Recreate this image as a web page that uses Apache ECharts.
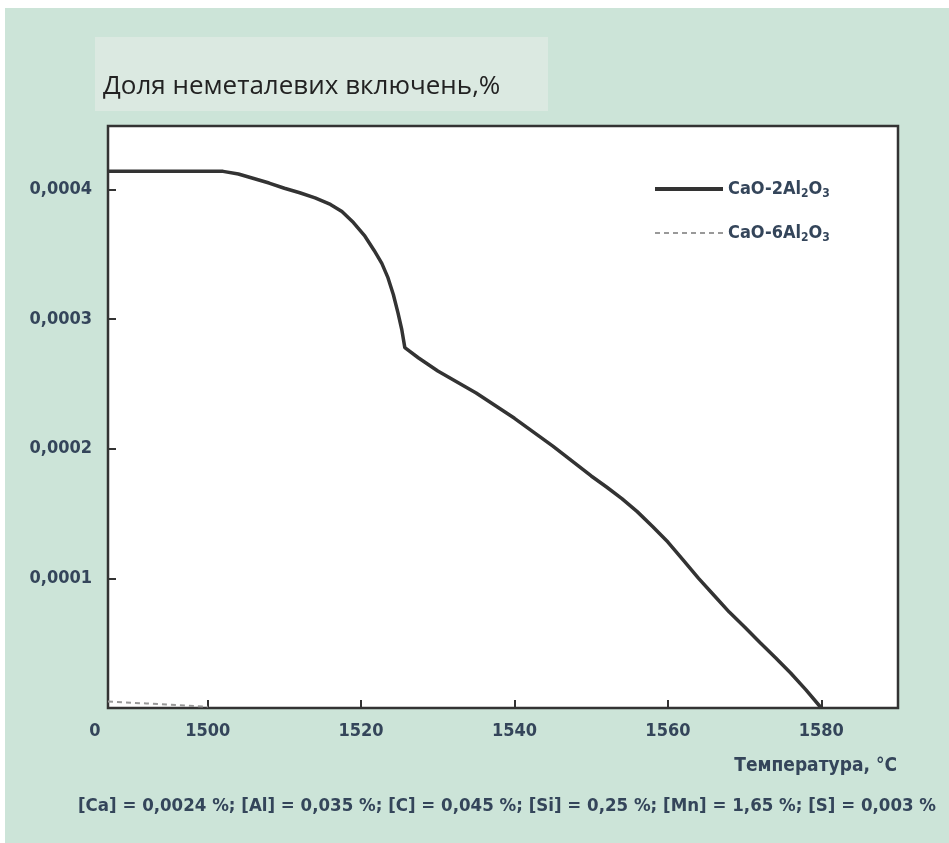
<!DOCTYPE html>
<html>
<head>
<meta charset="utf-8">
<script src="https://cdn.jsdelivr.net/npm/echarts@6/dist/echarts.min.js"></script>
<style>
html,body{margin:0;padding:0;background:#fff;}
#chart{width:949px;height:843px;}
</style>
</head>
<body>
<div id="chart"></div>
<script>
// ---- data ----
const tempCaO2 = [1487, 1490, 1495, 1500, 1502, 1504, 1506, 1508, 1510, 1512, 1514, 1516, 1517.5, 1519, 1520.5, 1521.7, 1522.7, 1523.5, 1524.2, 1524.8, 1525.3, 1525.7, 1527.5, 1530, 1535, 1540, 1545, 1550, 1552, 1554, 1556, 1558, 1560, 1562, 1564, 1566, 1568, 1570, 1572, 1574, 1576, 1578, 1580];
const valCaO2  = [0.000414, 0.000414, 0.000414, 0.000414, 0.000414, 0.000412, 0.0004085, 0.000405, 0.000401, 0.0003975, 0.0003935, 0.0003885, 0.000383, 0.0003745, 0.000364, 0.000353, 0.000343, 0.000332, 0.000319, 0.000305, 0.000292, 0.000278, 0.000270, 0.000260, 0.000243, 0.0002235, 0.000202, 0.000179, 0.0001705, 0.0001615, 0.0001515, 0.000140, 0.000128, 0.000114, 0.000100, 0.000087, 0.000074, 0.0000625, 0.0000505, 0.000039, 0.000027, 0.000014, 0.0000];
const tempCaO6 = [1487, 1492, 1497, 1500];
const valCaO6  = [0.000005, 0.0000035, 0.000002, 0.000001];
const seriesNames = ['CaO-2Al2O3', 'CaO-6Al2O3'];
const xTicks = [1500, 1520, 1540, 1560, 1580];
const yTicks = [0.0001, 0.0002, 0.0003, 0.0004];
const originLabel = '0';
const titleText = 'Доля неметалевих включень,%';
const xAxisName = 'Температура, °C';
const noteText = '[Ca] = 0,0024 %; [Al] = 0,035 %; [C] = 0,045 %; [Si] = 0,25 %; [Mn] = 1,65 %; [S] = 0,003 %';

const narrow = "'Liberation Sans Narrow', 'DejaVu Sans Condensed', sans-serif";
const txtColor = '#34455a';

const chart = echarts.init(document.getElementById('chart'));
chart.setOption({
  backgroundColor: '#cce4d8',
  animation: false,
  graphic: [
    { type: 'rect', shape: { x: 0, y: 0, width: 949, height: 8 }, style: { fill: '#fff' }, z: 0 },
    { type: 'rect', shape: { x: 0, y: 0, width: 5, height: 843 }, style: { fill: '#fff' }, z: 0 },
    { type: 'rect', shape: { x: 95, y: 37, width: 453, height: 74 }, style: { fill: '#dbe9e1' }, z: 0 },
    { type: 'text', x: 103, y: 87, style: { text: titleText, fill: '#222', font: "26px 'Open Sans', sans-serif", textVerticalAlign: 'middle' }, z: 5 },
    { type: 'text', x: 95, y: 731, style: { text: originLabel, fill: txtColor, font: "bold 18px " + narrow, textAlign: 'center', textVerticalAlign: 'middle' }, z: 5 },
    { type: 'text', x: 897, y: 766, style: { text: xAxisName, fill: txtColor, font: "bold 19px " + narrow, textAlign: 'right', textVerticalAlign: 'middle' }, z: 5 },
    { type: 'text', x: 507, y: 806, style: { text: noteText, fill: txtColor, font: "bold 18.5px " + narrow, textAlign: 'center', textVerticalAlign: 'middle' }, z: 5 }
  ],
  grid: {
    left: 108, top: 126, right: 51, bottom: 135,
    show: true, backgroundColor: '#fff', borderColor: '#333', borderWidth: 2.5
  },
  legend: {
    orient: 'vertical', left: 648, top: 175, itemWidth: 68, itemHeight: 14, itemGap: 24,
    itemStyle: { opacity: 0 },
    data: [
      { name: seriesNames[0], lineStyle: { width: 4, color: '#333' } },
      { name: seriesNames[1], lineStyle: { width: 2, color: '#999', type: [5, 4] } }
    ],
    formatter: function (n) {
      const m = n.match(/^(CaO-\d)Al2O3$/);
      return '{a|' + m[1] + 'Al}{s|2}{a|O}{s|3}';
    },
    textStyle: {
      rich: {
        a: { fontFamily: narrow, fontSize: 18, fontWeight: 'bold', color: txtColor },
        s: { fontFamily: narrow, fontSize: 12, fontWeight: 'bold', color: txtColor, padding: [10, 0, 0, 0] }
      }
    }
  },
  xAxis: {
    type: 'value', min: 1487, max: 1590,
    axisLine: { show: false },
    splitLine: { show: false },
    axisTick: { show: true, inside: true, length: 8, customValues: xTicks, lineStyle: { color: '#333', width: 2 } },
    axisLabel: { customValues: xTicks, color: txtColor, fontFamily: narrow, fontWeight: 'bold', fontSize: 18, margin: 14, formatter: v => String(v) }
  },
  yAxis: {
    type: 'value', min: 0, max: 0.000449,
    axisLine: { show: false },
    splitLine: { show: false },
    axisTick: { show: true, inside: true, length: 8, customValues: yTicks, lineStyle: { color: '#333', width: 2 } },
    axisLabel: {
      customValues: yTicks, color: txtColor, fontFamily: narrow, fontWeight: 'bold', fontSize: 18, margin: 16,
      formatter: v => v.toFixed(4).replace('.', ',')
    }
  },
  series: [
    {
      name: seriesNames[0], type: 'line', symbol: 'none',
      data: tempCaO2.map((t, i) => [t, valCaO2[i]]),
      lineStyle: { color: '#333', width: 3.5 }, itemStyle: { color: '#333' }, z: 3
    },
    {
      name: seriesNames[1], type: 'line', symbol: 'none',
      data: tempCaO6.map((t, i) => [t, valCaO6[i]]),
      lineStyle: { color: '#999', width: 2, type: [5, 4] }, itemStyle: { color: '#999' }, z: 2
    }
  ]
});
</script>
</body>
</html>
